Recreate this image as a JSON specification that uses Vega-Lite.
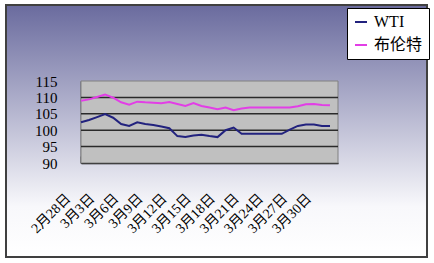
{
  "$schema": "https://vega.github.io/schema/vega-lite/v6.json",
  "width": 421,
  "height": 252,
  "autosize": {"type": "none"},
  "padding": {"left": 6, "top": 5, "right": 7, "bottom": 6},
  "background": "white",
  "view": {
    "fill": {"gradient": "linear", "x1": 0, "y1": 0, "x2": 0, "y2": 1, "stops": [{"offset": 0, "color": "#6a6b9e"}, {"offset": 0.8, "color": "#f8f8fb"}, {"offset": 1, "color": "#ffffff"}]},
    "stroke": "#404040",
    "strokeWidth": 2
  },
  "datasets": {
    "prices": [
      {"date": "2014-02-28", "series": "WTI", "price": 102.4},
      {"date": "2014-03-01", "series": "WTI", "price": 103.1},
      {"date": "2014-03-02", "series": "WTI", "price": 104.0},
      {"date": "2014-03-03", "series": "WTI", "price": 104.9},
      {"date": "2014-03-04", "series": "WTI", "price": 103.8},
      {"date": "2014-03-05", "series": "WTI", "price": 101.9},
      {"date": "2014-03-06", "series": "WTI", "price": 101.3},
      {"date": "2014-03-07", "series": "WTI", "price": 102.4},
      {"date": "2014-03-08", "series": "WTI", "price": 101.9},
      {"date": "2014-03-09", "series": "WTI", "price": 101.6},
      {"date": "2014-03-10", "series": "WTI", "price": 101.1},
      {"date": "2014-03-11", "series": "WTI", "price": 100.6},
      {"date": "2014-03-12", "series": "WTI", "price": 98.2},
      {"date": "2014-03-13", "series": "WTI", "price": 97.9},
      {"date": "2014-03-14", "series": "WTI", "price": 98.4},
      {"date": "2014-03-15", "series": "WTI", "price": 98.6},
      {"date": "2014-03-16", "series": "WTI", "price": 98.2},
      {"date": "2014-03-17", "series": "WTI", "price": 97.9},
      {"date": "2014-03-18", "series": "WTI", "price": 100.0},
      {"date": "2014-03-19", "series": "WTI", "price": 100.8},
      {"date": "2014-03-20", "series": "WTI", "price": 98.9},
      {"date": "2014-03-21", "series": "WTI", "price": 98.9},
      {"date": "2014-03-22", "series": "WTI", "price": 98.9},
      {"date": "2014-03-23", "series": "WTI", "price": 98.9},
      {"date": "2014-03-24", "series": "WTI", "price": 98.9},
      {"date": "2014-03-25", "series": "WTI", "price": 98.9},
      {"date": "2014-03-26", "series": "WTI", "price": 100.2},
      {"date": "2014-03-27", "series": "WTI", "price": 101.3},
      {"date": "2014-03-28", "series": "WTI", "price": 101.7},
      {"date": "2014-03-29", "series": "WTI", "price": 101.7},
      {"date": "2014-03-30", "series": "WTI", "price": 101.3},
      {"date": "2014-03-31", "series": "WTI", "price": 101.3},
      {"date": "2014-02-28", "series": "布伦特", "price": 109.0},
      {"date": "2014-03-01", "series": "布伦特", "price": 109.4},
      {"date": "2014-03-02", "series": "布伦特", "price": 110.1},
      {"date": "2014-03-03", "series": "布伦特", "price": 110.9},
      {"date": "2014-03-04", "series": "布伦特", "price": 109.9},
      {"date": "2014-03-05", "series": "布伦特", "price": 108.5},
      {"date": "2014-03-06", "series": "布伦特", "price": 107.8},
      {"date": "2014-03-07", "series": "布伦特", "price": 108.7},
      {"date": "2014-03-08", "series": "布伦特", "price": 108.5},
      {"date": "2014-03-09", "series": "布伦特", "price": 108.4},
      {"date": "2014-03-10", "series": "布伦特", "price": 108.2},
      {"date": "2014-03-11", "series": "布伦特", "price": 108.6},
      {"date": "2014-03-12", "series": "布伦特", "price": 108.0},
      {"date": "2014-03-13", "series": "布伦特", "price": 107.4},
      {"date": "2014-03-14", "series": "布伦特", "price": 108.3},
      {"date": "2014-03-15", "series": "布伦特", "price": 107.4},
      {"date": "2014-03-16", "series": "布伦特", "price": 106.9},
      {"date": "2014-03-17", "series": "布伦特", "price": 106.4},
      {"date": "2014-03-18", "series": "布伦特", "price": 106.9},
      {"date": "2014-03-19", "series": "布伦特", "price": 106.1},
      {"date": "2014-03-20", "series": "布伦特", "price": 106.6},
      {"date": "2014-03-21", "series": "布伦特", "price": 106.9},
      {"date": "2014-03-22", "series": "布伦特", "price": 106.9},
      {"date": "2014-03-23", "series": "布伦特", "price": 106.9},
      {"date": "2014-03-24", "series": "布伦特", "price": 106.9},
      {"date": "2014-03-25", "series": "布伦特", "price": 106.9},
      {"date": "2014-03-26", "series": "布伦特", "price": 106.9},
      {"date": "2014-03-27", "series": "布伦特", "price": 107.3},
      {"date": "2014-03-28", "series": "布伦特", "price": 107.9},
      {"date": "2014-03-29", "series": "布伦特", "price": 108.0},
      {"date": "2014-03-30", "series": "布伦特", "price": 107.7},
      {"date": "2014-03-31", "series": "布伦特", "price": 107.6}
    ],
    "grid": [{"v": 95}, {"v": 100}, {"v": 105}, {"v": 110}]
  },
  "layer": [
    {
      "data": {"values": [{}]},
      "mark": {"type": "rect", "fill": "#c0c0c0", "stroke": "#808080", "strokeWidth": 1},
      "encoding": {
        "x": {"datum": {"year": 2014, "month": 2, "date": 28}, "type": "temporal", "scale": {"domain": [{"year": 2014, "month": 2, "date": 28}, {"year": 2014, "month": 4, "date": 1}], "range": [75, 332]},
          "axis": {"values": [{"year": 2014, "month": 2, "date": 28}, {"year": 2014, "month": 3, "date": 3}, {"year": 2014, "month": 3, "date": 6}, {"year": 2014, "month": 3, "date": 9}, {"year": 2014, "month": 3, "date": 12}, {"year": 2014, "month": 3, "date": 15}, {"year": 2014, "month": 3, "date": 18}, {"year": 2014, "month": 3, "date": 21}, {"year": 2014, "month": 3, "date": 24}, {"year": 2014, "month": 3, "date": 27}, {"year": 2014, "month": 3, "date": 30}],
            "format": "%-m月%-d日", "title": null, "orient": "bottom", "offset": -94, "grid": false,
            "domain": true, "domainColor": "#000000", "domainWidth": 1.5,
            "ticks": true, "tickSize": -7, "tickColor": "#000000", "tickWidth": 1.5,
            "labelAngle": -45, "labelAlign": "right", "labelBaseline": "middle", "labelOffset": -13, "labelPadding": 40,
            "labelFont": "Liberation Serif, Noto Sans CJK SC", "labelFontSize": 14, "labelColor": "#000000", "labelOverlap": false, "labelFlush": false, "labelBound": false}},
        "x2": {"datum": {"year": 2014, "month": 4, "date": 1}},
        "y": {"datum": 90, "type": "quantitative", "scale": {"domain": [90, 115], "range": [158, 76], "nice": false, "zero": false},
          "axis": {"values": [90, 95, 100, 105, 110, 115], "title": null, "orient": "left", "offset": -75, "grid": false,
            "domain": true, "domainColor": "#000000", "domainWidth": 1.5, "ticks": false, "labelPadding": 24,
            "labelFont": "Liberation Serif", "labelFontSize": 15, "labelColor": "#000000", "labelBaseline": "middle", "labelFlush": false, "labelOverlap": false}},
        "y2": {"datum": 115}
      }
    },
    {
      "data": {"name": "grid"},
      "mark": {"type": "rule", "color": "#2a2a2a", "strokeWidth": 1.5},
      "encoding": {
        "x": {"datum": {"year": 2014, "month": 2, "date": 28}, "type": "temporal"},
        "x2": {"datum": {"year": 2014, "month": 4, "date": 1}},
        "y": {"field": "v", "type": "quantitative"}
      }
    },
    {
      "data": {"name": "prices", "format": {"parse": {"date": "date:'%Y-%m-%d'"}}},
      "mark": {"type": "line", "strokeWidth": 2},
      "encoding": {
        "x": {"field": "date", "type": "temporal"},
        "y": {"field": "price", "type": "quantitative"},
        "color": {"field": "series", "type": "nominal",
          "scale": {"domain": ["WTI", "布伦特"], "range": ["#22227e", "#e23ee6"]},
          "legend": {"title": null, "orient": "none", "legendX": 341, "legendY": 3,
            "fillColor": "#ffffff", "strokeColor": "#000000", "padding": 6, "rowPadding": 7,
            "symbolType": "stroke", "symbolSize": 144, "symbolStrokeWidth": 2, "labelOffset": 5,
            "labelFont": "Liberation Serif, Noto Sans CJK SC", "labelFontSize": 16, "labelColor": "#000000"}}
      }
    }
  ]
}
